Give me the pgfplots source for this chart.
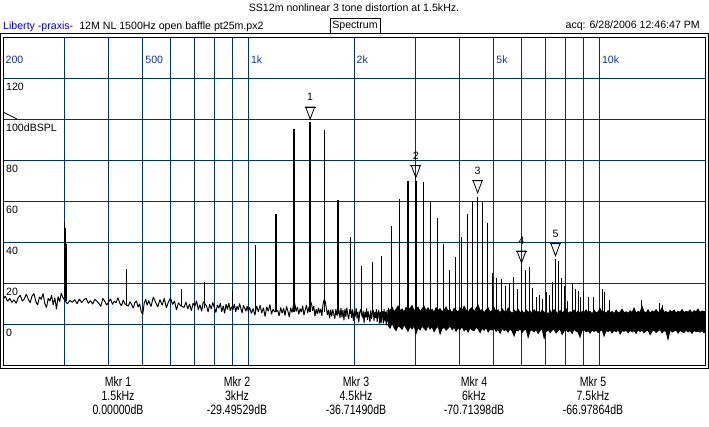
\documentclass[border=0pt]{standalone}
\usepackage{fontspec}
\setmainfont{Liberation Sans}
\newfontfamily\narrowfont[FakeStretch=0.78]{Liberation Sans}
\usepackage{pgfplots}
\pgfplotsset{compat=1.18}
\usepackage{pgfplotstable}
\definecolor{gridnavy}{RGB}{0,51,102}
\definecolor{tickblue}{RGB}{20,50,150}
\definecolor{libblue}{RGB}{0,0,210}

% low/mid frequency noise floor (Hz, dB)
\pgfplotstableread{
f y
200 12.0
203 13.6
206 11.1
209 12.5
212 10.6
215 11.8
218 10.1
221 12.9
224 14.0
227 11.2
230 12.3
233 14.6
236 12.1
239 10.4
242 13.7
245 14.8
248 11.0
251 9.3
254 13.2
257 12.0
260 14.9
263 10.1
266 8.0
269 12.6
272 11.1
275 14.0
278 9.4
281 12.8
284 7.2
287 13.4
290 10.9
293 15.0
296 13.0
305 9.8
310 11.5
315 10.6
320 11.9
325 9.9
330 12.2
335 10.4
340 11.8
345 12.6
350 10.1
355 11.4
360 9.7
365 12.0
370 11.2
375 10.0
380 8.6
385 12.5
390 11.0
395 9.2
400 10.8
405 12.3
410 9.6
415 11.1
420 10.4
425 12.9
430 10.2
435 8.9
440 11.6
445 9.8
455 8.7
460 10.9
465 9.4
470 7.8
475 10.5
480 11.3
485 8.2
490 9.9
495 6.1
500 4.6
505 10.2
510 12.0
515 9.1
520 11.4
528 8.5
536 13.1
544 10.6
552 8.4
560 11.9
568 9.2
576 12.5
584 7.9
592 10.8
600 12.7
608 9.5
616 11.2
624 6.8
632 10.4
640 9.0
656 8.1
664 10.7
672 7.3
680 9.8
688 6.4
696 10.2
704 8.6
712 11.3
720 7.0
728 9.4
736 6.2
744 10.9
760 8.8
768 5.9
776 9.6
784 7.4
792 10.5
800 8.0
808 5.6
816 9.3
824 7.7
832 10.1
840 6.0
848 8.9
856 5.2
864 9.7
872 7.1
880 10.3
888 6.5
896 8.4
904 7.0
912 9.8
920 5.8
928 8.6
936 6.9
944 10.0
952 7.5
960 5.4
968 9.1
976 7.8
984 6.2
992 8.7
1000 6.0
1008 8.2
1020 5.1
1032 7.6
1044 4.3
1056 8.8
1068 6.0
1080 9.1
1092 5.4
1104 7.9
1116 3.6
1128 8.4
1140 6.2
1152 9.5
1164 4.8
1176 7.3
1188 5.9
1212 6.6
1224 3.9
1236 8.1
1248 5.2
1260 7.7
1272 4.1
1284 8.6
1296 6.3
1308 3.4
1320 7.9
1332 5.6
1344 9.2
1356 10.0
1368 6.1
1380 8.3
1392 4.7
1404 7.5
1416 5.8
1428 8.9
1440 4.2
1452 7.0
1464 9.3
1476 5.5
1488 8.1
1512 10.5
1524 6.4
1536 8.7
1548 3.8
1560 7.2
1572 4.9
1584 8.0
1596 5.3
1608 7.4
1620 4.0
1632 9.6
1644 12.0
1656 11.0
1668 7.8
1680 4.4
1692 6.9
1704 2.8
1716 7.0
1728 3.7
1740 7.1
1752 4.5
1764 2.6
1776 7.3
1788 4.1
1812 6.7
1824 2.9
1836 7.8
1848 3.3
1860 6.9
1872 1.8
1884 7.4
1896 3.5
1908 8.0
1920 4.2
1932 2.4
1944 6.8
1956 7.5
1968 3.0
1980 7.1
1992 1.5
2004 6.3
2016 3.6
2028 7.9
2040 2.7
2052 6.0
2064 0.8
2076 5.6
2088 7.2
2112 3.1
2124 6.5
2136 0.5
2148 5.9
2160 3.2
2172 7.6
2184 2.0
2196 6.1
2208 3.8
2220 0.9
2232 6.6
2244 2.5
2256 5.4
2268 7.0
2280 1.6
2292 5.8
2304 3.0
2316 7.3
2328 1.1
2340 5.2
2352 6.7
2364 0.2
2376 5.9
2388 0.4
2412 6.2
2424 0.3
2436 7.4
2448 1.3
2460 6.0
2472 -0.6
2484 6.8
2496 0.7
2508 5.5
}\noiseA

% dense high-frequency noise band as a closed outline:
% upper envelope rising in frequency, then lower envelope back down (Hz, dB)
\pgfplotstableread{
f y
2500 7.8
2533 6.2
2566 8.4
2600 5.9
2635 7.1
2670 8.8
2705 6.5
2741 7.4
2777 5.8
2814 8.1
2851 6.9
2889 7.7
2927 9.0
2966 6.3
3005 7.6
3045 8.2
3085 6.0
3126 7.3
3167 8.7
3209 6.4
3251 7.9
3294 6.1
3338 7.2
3382 5.7
3427 8.0
3472 6.6
3518 7.5
3564 5.9
3611 6.8
3659 8.3
3707 6.2
3756 7.0
3806 5.4
3856 7.6
3907 6.7
3959 5.8
4011 7.9
4064 6.3
4118 8.6
4172 6.9
4227 5.6
4283 7.3
4340 8.1
4397 6.0
4455 7.7
4514 9.2
4574 6.4
4634 7.1
4695 5.5
4757 6.8
4820 7.9
4884 5.7
4948 6.6
5014 8.0
5080 5.9
5147 6.9
5215 5.3
5284 7.4
5354 6.1
5425 5.6
5496 7.8
5569 6.2
5643 5.1
5717 6.7
5793 5.8
5869 7.2
5947 5.4
6025 6.4
6105 5.0
6186 6.9
6267 5.7
6350 6.3
6434 4.9
6519 7.0
6605 5.5
6692 6.1
6781 5.2
6870 6.8
6961 5.6
7053 6.0
7146 4.8
7240 6.5
7336 5.3
7433 7.1
7531 5.9
7630 5.0
7731 6.6
7833 5.4
7936 6.2
8041 7.4
8147 5.1
8255 6.0
8364 5.7
8474 6.8
8586 5.2
8699 6.4
8814 5.0
8930 6.1
9048 5.5
9168 6.9
9289 5.3
9411 6.2
9535 4.9
9661 6.7
9789 5.4
9918 6.0
10049 7.5
10181 5.6
10316 6.3
10452 5.1
10590 6.6
10730 5.5
10871 6.1
11015 5.0
11160 6.8
11308 5.3
11457 5.9
11608 7.2
11761 5.4
11917 6.0
12074 5.2
12233 6.5
12395 5.6
12558 7.8
12724 5.3
12892 6.2
13062 5.7
13234 8.6
13409 6.0
13586 5.4
13765 6.9
13947 5.2
14131 6.4
14318 5.8
14507 7.0
14698 5.5
14892 6.3
15089 8.0
15290 5.6
15490 6.1
15694 5.3
15901 6.6
16111 5.9
16324 6.8
16539 5.4
16758 6.3
16979 5.7
17203 7.1
17430 5.5
17660 6.2
17894 5.8
18130 6.9
18369 5.3
18612 6.5
18857 5.9
19106 7.3
19358 5.6
19614 6.4
19873 6.0
20135 6.2
20135 -3.5
19873 -4.3
19614 -3.2
19358 -4.0
19106 -3.4
18857 -3.8
18612 -3.1
18369 -4.6
18130 -3.3
17894 -3.9
17660 -3.0
17430 -4.2
17203 -3.7
16979 -3.1
16758 -4.5
16539 -2.9
16324 -3.4
16111 -4.0
15901 -3.0
15694 -7.5
15490 -3.8
15290 -3.2
15089 -4.4
14892 -2.8
14698 -3.3
14507 -4.1
14318 -3.0
14131 -3.5
13947 -5.2
13765 -2.9
13586 -3.4
13409 -4.2
13234 -3.1
13062 -3.7
12892 -2.8
12724 -4.6
12558 -3.2
12395 -3.9
12233 -3.0
12074 -4.3
11917 -2.9
11761 -3.6
11608 -3.3
11457 -4.9
11308 -2.7
11160 -3.8
11015 -3.1
10871 -4.4
10730 -2.9
10590 -3.7
10452 -3.2
10316 -5.9
10181 -2.8
10049 -3.4
9918 -4.2
9789 -3.0
9661 -3.6
9535 -2.9
9411 -4.5
9289 -3.3
9168 -3.8
9048 -2.7
8930 -3.1
8814 -6.4
8699 -4.0
8586 -3.5
8474 -2.6
8364 -4.6
8255 -3.0
8147 -3.9
8041 -2.8
7936 -3.4
7833 -5.1
7731 -2.5
7630 -3.2
7531 -4.4
7433 -2.7
7336 -3.0
7240 -4.2
7146 -2.9
7053 -3.6
6961 -7.0
6870 -2.4
6781 -3.1
6692 -4.7
6605 -2.6
6519 -3.9
6434 -2.8
6350 -3.3
6267 -6.5
6186 -2.5
6105 -3.0
6025 -4.1
5947 -2.2
5869 -3.4
5793 -2.9
5717 -5.8
5643 -3.5
5569 -2.3
5496 -4.0
5425 -2.7
5354 -3.2
5284 -2.1
5215 -4.5
5147 -2.6
5080 -3.6
5014 -1.9
4948 -3.0
4884 -2.4
4820 -3.9
4757 -1.7
4695 -3.1
4634 -2.0
4574 -4.2
4514 -2.5
4455 -1.6
4397 -3.3
4340 -2.9
4283 -1.8
4227 -4.0
4172 -2.2
4118 -3.4
4064 -1.3
4011 -2.7
3959 -2.0
3907 -3.6
3856 -1.5
3806 -2.8
3756 -0.9
3707 -2.1
3659 -3.0
3611 -1.6
3564 -2.3
3518 -4.9
3472 -1.1
3427 -2.0
3382 -3.8
3338 -1.4
3294 -2.5
3251 -0.7
3209 -3.1
3167 -2.2
3126 -1.0
3085 -2.9
3045 -1.7
3005 -4.6
2966 -0.8
2927 -2.4
2889 -1.2
2851 -3.5
2814 -1.9
2777 -0.4
2741 -2.6
2705 -1.5
2670 -0.9
2635 -3.2
2600 -1.8
2566 0.3
2533 -2.1
2500 -0.6
}\noiseband

% spectral lines (Hz, dB): base, top, break
\pgfplotstableread{
f y
299 11
299 49.6
299 nan
301 11
301 47
301 nan
302.5 11
302.5 39
302.5 nan
450 9
450 27
450 nan
645 9
645 17
645 nan
750 8
750 20.3
750 nan
900 7
900 16.2
900 nan
1050 6
1050 38.4
1050 nan
1950 5
1950 42.3
1950 nan
2100 5
2100 28.4
2100 nan
2250 5
2250 30.1
2250 nan
2400 4
2400 33
2400 nan
2550 4
2550 48
2550 nan
3300 4
3300 59.5
3300 nan
3450 3
3450 51.5
3450 nan
3600 3
3600 39.2
3600 nan
3750 3
3750 26.5
3750 nan
3900 3
3900 32.5
3900 nan
4050 3
4050 42.3
4050 nan
4200 3
4200 53.9
4200 nan
4350 3
4350 59.8
4350 nan
4500 3
4500 62
4500 nan
4650 3
4650 60
4650 nan
4800 3
4800 49.3
4800 nan
4950 3
4950 24.8
4950 nan
5100 3
5100 22.4
5100 nan
5250 3
5250 21.9
5250 nan
5400 3
5400 18.7
5400 nan
5550 3
5550 19.5
5550 nan
5700 3
5700 22.7
5700 nan
5850 3
5850 17
5850 nan
6000 3
6000 28.5
6000 nan
6150 3
6150 26.5
6150 nan
6300 3
6300 27.8
6300 nan
6450 3
6450 17.8
6450 nan
6600 3
6600 13
6600 nan
6750 3
6750 14.2
6750 nan
6900 3
6900 12
6900 nan
7050 3
7050 15.8
7050 nan
7200 3
7200 14
7200 nan
7350 3
7350 20.7
7350 nan
7500 3
7500 31.5
7500 nan
7650 3
7650 30.5
7650 nan
7800 3
7800 22.4
7800 nan
7950 3
7950 18.3
7950 nan
8100 3
8100 11
8100 nan
8400 3
8400 20
8400 nan
8550 3
8550 17
8550 nan
8700 3
8700 16
8700 nan
8850 3
8850 13
8850 nan
9000 3
9000 16
9000 nan
9300 3
9300 13
9300 nan
9600 3
9600 13
9600 nan
10200 3
10200 17
10200 nan
10350 3
10350 15.8
10350 nan
10700 3
10700 11.8
10700 nan
13200 3
13200 11.8
13200 nan
14800 3
14800 10.2
14800 nan
15100 3
15100 9.5
15100 nan
}\peaks

% strongest lines (drawn thicker)
\pgfplotstableread{
f y
1200 6
1200 53.9
1200 nan
1350 6
1350 95.1
1350 nan
1500 6
1500 98.4
1500 nan
1650 6
1650 94.6
1650 nan
1800 5
1800 60.3
1800 nan
2700 4
2700 61.1
2700 nan
2850 4
2850 69.8
2850 nan
3000 4
3000 70
3000 nan
3150 4
3150 69.3
3150 nan
}\bigpeaks

\begin{document}
\fontsize{10.6}{12}\selectfont
\begin{tikzpicture}[x=1pt,y=1pt]
\path[use as bounding box] (0,0) rectangle (709,426);

\begin{axis}[
  at={(3pt,61pt)}, anchor=south west,
  scale only axis, width=702pt, height=328pt,
  xmode=log, xmin=200, xmax=20000, ymin=-20, ymax=140,
  xtick={300,400,500,600,700,800,900,1000,2000,3000,4000,5000,6000,7000,8000,9000,10000},
  ytick={0,20,40,60,80,100,120},
  xminorticks=false, yminorticks=false,
  xticklabels={}, yticklabels={},
  major tick length=0pt,
  grid=major,
  major grid style={gridnavy, line width=0.9pt},
  axis line style={black, line width=0.9pt},
]
\addplot[black, line width=0.95pt, line join=bevel] table[x=f,y=y]{\noiseA};
\addplot[black, fill=black, line width=0.8pt] table[x=f,y=y]{\noiseband};
\addplot[black, line width=0.85pt, unbounded coords=jump] table[x=f,y=y]{\peaks};
\addplot[black, line width=1.4pt, unbounded coords=jump] table[x=f,y=y]{\bigpeaks};

\coordinate (m1) at (axis cs:1500,100);
\coordinate (m2) at (axis cs:3000,71.4);
\coordinate (m3) at (axis cs:4500,64);
\coordinate (m4) at (axis cs:6000,29.8);
\coordinate (m5) at (axis cs:7500,33.3);

\coordinate (f200) at (axis cs:200,127.2);
\coordinate (f500) at (axis cs:500,127.2);
\coordinate (f1k) at (axis cs:1000,127.2);
\coordinate (f2k) at (axis cs:2000,127.2);
\coordinate (f5k) at (axis cs:5000,127.2);
\coordinate (f10k) at (axis cs:10000,127.2);

\coordinate (l120) at (axis cs:200,120);
\coordinate (l100) at (axis cs:200,100);
\coordinate (l80) at (axis cs:200,80);
\coordinate (l60) at (axis cs:200,60);
\coordinate (l40) at (axis cs:200,40);
\coordinate (l20) at (axis cs:200,20);
\coordinate (l0) at (axis cs:200,0);
\end{axis}

% frequency labels in the top band
\foreach \c/\t in {f200/200,f500/500,f1k/1k,f2k/2k,f5k/5k,f10k/10k}{
  \node[anchor=base west, inner sep=0pt, text=tickblue] at ([xshift=2.5pt]\c) {\t};
}
% level labels
\foreach \c/\t in {l120/120,l100/100dBSPL,l80/80,l60/60,l40/40,l20/20,l0/0}{
  \node[anchor=base west, inner sep=0pt] at ([xshift=3pt,yshift=-12.8pt]\c) {\t};
}

% reference level marker
\draw[line width=0.7pt] (3,314) -- (17,307);

% outer frame
\draw[line width=0.9pt] (0.5,57.7) rectangle (708.2,392.7);

% peak markers
\foreach \m/\n in {m1/1,m2/2,m3/3,m4/4,m5/5}{
  \draw[line width=0.8pt] (\m) -- ++(-4.5,12) -- ++(9,0) -- cycle;
  \draw[line width=0.8pt] (\m) ++(-5.5,12) -- ++(11,0);
  \node[anchor=base, inner sep=0pt] at ([yshift=18pt]\m) {\n};
}

% header
\node[anchor=base, inner sep=0pt] at (354,414.3) {SS12m nonlinear 3 tone distortion at 1.5kHz.};
\node[anchor=base west, inner sep=0pt] at (3,396.8) {\textcolor{libblue}{Liberty -praxis-}\hspace{6pt}12M NL 1500Hz open baffle pt25m.px2};
\draw[line width=0.8pt] (330,393) rectangle (380,408);
\node[anchor=base, inner sep=0pt] at (355,397) {Spectrum};
\node[anchor=base east, inner sep=0pt] at (700,397.3) {acq: 6/28/2006 12:46:47 PM};

% marker readouts
\foreach \x/\a/\b/\c in {118/Mkr 1/1.5kHz/0.00000dB,237/Mkr 2/3kHz/-29.49529dB,356/Mkr 3/4.5kHz/-36.71490dB,474/Mkr 4/6kHz/-70.71398dB,593/Mkr 5/7.5kHz/-66.97864dB}{
  \node[anchor=base, inner sep=0pt, font=\narrowfont\fontsize{13.5}{14}\selectfont] at (\x,40) {\a};
  \node[anchor=base, inner sep=0pt, font=\narrowfont\fontsize{13.5}{14}\selectfont] at (\x,26) {\b};
  \node[anchor=base, inner sep=0pt, font=\narrowfont\fontsize{13.5}{14}\selectfont] at (\x,12) {\c};
}
\end{tikzpicture}
\end{document}
